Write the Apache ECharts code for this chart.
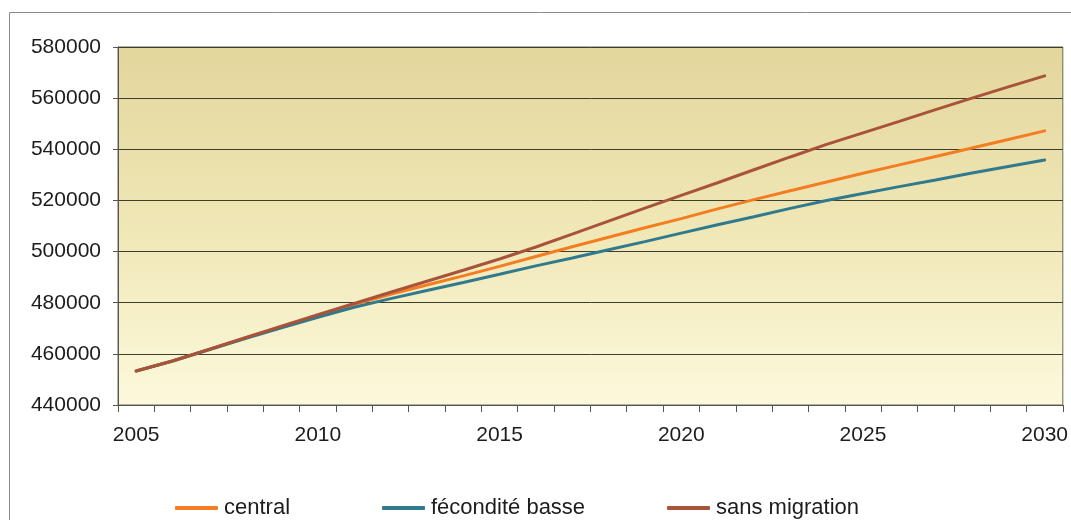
<!DOCTYPE html>
<html>
<head>
<meta charset="utf-8">
<script src="https://cdn.jsdelivr.net/npm/echarts@6/dist/echarts.min.js"></script>
<style>
html,body{margin:0;padding:0;background:#fff;}
#chart{width:1071px;height:520px;}
</style>
</head>
<body>
<div id="chart"></div>
<script>
var years = [];
for (var yr = 2005; yr <= 2030; yr++) years.push(String(yr));

var seriesNames = ['central', 'fécondité basse', 'sans migration'];

var central = [453300, 457200, 461700, 466200, 470600, 475000, 479300, 483300, 486900, 490500,
  494200, 498100, 501900, 505600, 509300, 512900, 516700, 520300, 523800, 527200,
  530600, 533900, 537200, 540500, 543800, 547200];

var feconditeBasse = [453300, 457200, 461600, 466000, 470200, 474300, 478200, 481600, 484800, 487900,
  491100, 494400, 497500, 500700, 503900, 507200, 510500, 513600, 516900, 520000,
  522700, 525400, 528000, 530700, 533300, 535800];

var sansMigration = [453300, 457200, 461700, 466300, 470800, 475300, 479700, 484100, 488400, 492700,
  497100, 501800, 506800, 511900, 516960, 522000, 526900, 532000, 537000, 541900,
  546400, 550900, 555500, 560000, 564400, 568700];

var yTicks = { min: 440000, max: 580000, interval: 20000 };

var colors = ['#F47D22', '#2F7A8C', '#A9533A'];
var font = '"Liberation Sans", Arial, sans-serif';

var chart = echarts.init(document.getElementById('chart'), null, { renderer: 'canvas' });

function legendAt(name, left) {
  return {
    data: [name],
    left: left,
    top: 492,
    icon: 'roundRect',
    itemWidth: 43,
    itemHeight: 4,
    itemGap: 8,
    textStyle: { fontFamily: font, fontSize: 22, color: '#1c1c1c', padding: [0, 0, 0, 1] }
  };
}

chart.setOption({
  animation: false,
  backgroundColor: '#ffffff',
  color: colors,
  graphic: [{
    type: 'rect',
    shape: { x: 9.5, y: 12.5, width: 1080, height: 530 },
    style: { fill: 'none', stroke: '#8a8a8a', lineWidth: 1 },
    z: -1
  }],
  legend: [
    legendAt(seriesNames[0], 170),
    legendAt(seriesNames[1], 377),
    legendAt(seriesNames[2], 662)
  ],
  grid: {
    left: 118, right: 8, top: 47, bottom: 115,
    show: true,
    borderColor: '#6b6b5a',
    borderWidth: 1,
    backgroundColor: new echarts.graphic.LinearGradient(0, 0, 0, 1, [
      { offset: 0, color: '#E3D69C' },
      { offset: 0.5, color: '#F0E7B6' },
      { offset: 1, color: '#FCF9DC' }
    ])
  },
  xAxis: {
    type: 'category',
    data: years,
    boundaryGap: true,
    axisLine: { lineStyle: { color: '#555', width: 1 } },
    axisTick: { show: true, interval: 0, length: 7, lineStyle: { color: '#555' } },
    axisLabel: { interval: 4, margin: 20, fontFamily: font, fontSize: 21, color: '#1c1c1c' },
    splitLine: { show: false }
  },
  yAxis: {
    type: 'value',
    min: yTicks.min,
    max: yTicks.max,
    interval: yTicks.interval,
    axisLine: { show: true, lineStyle: { color: '#555', width: 1 } },
    axisTick: { show: true, length: 5, lineStyle: { color: '#555' } },
    axisLabel: { margin: 17, fontFamily: font, fontSize: 21, color: '#1c1c1c',
      formatter: function (v) { return String(v); } },
    splitLine: { show: true, lineStyle: { color: '#3d3d30', width: 1 } }
  },
  series: [
    { name: seriesNames[0], type: 'line', data: central, showSymbol: false, symbol: 'none',
      lineStyle: { width: 3, color: colors[0], cap: 'round' }, z: 2 },
    { name: seriesNames[1], type: 'line', data: feconditeBasse, showSymbol: false, symbol: 'none',
      lineStyle: { width: 3, color: colors[1], cap: 'round' }, z: 3 },
    { name: seriesNames[2], type: 'line', data: sansMigration, showSymbol: false, symbol: 'none',
      lineStyle: { width: 3, color: colors[2], cap: 'round' }, z: 4 }
  ]
});
</script>
</body>
</html>
